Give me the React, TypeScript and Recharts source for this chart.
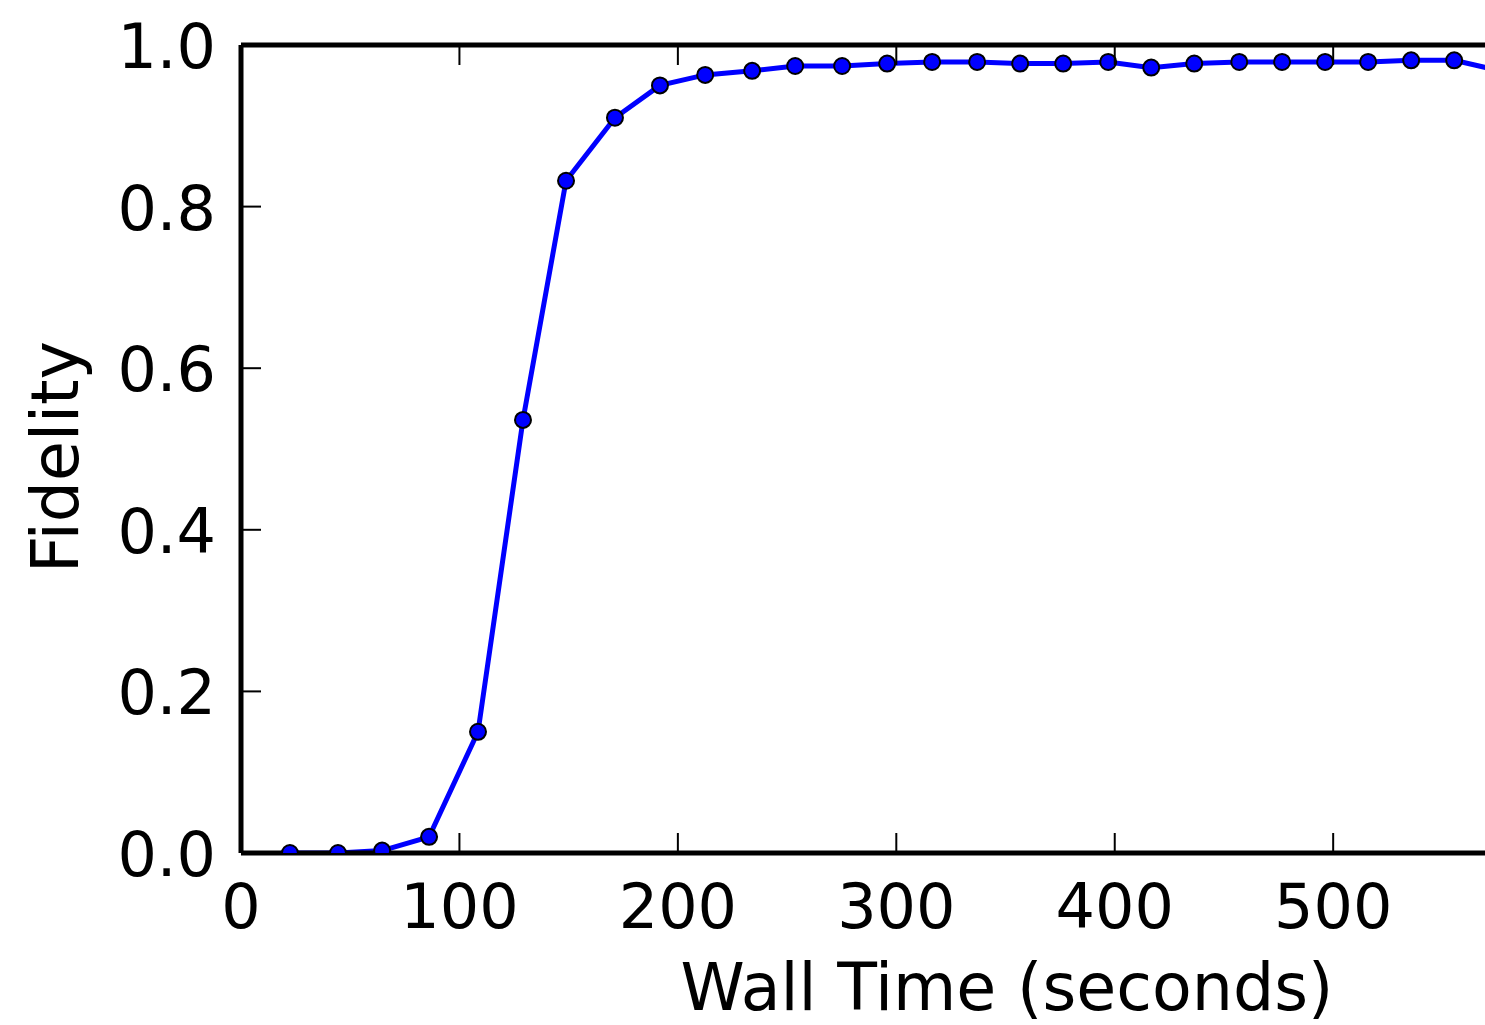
import React from 'react';
import { LineChart, Line, XAxis, YAxis } from 'recharts';

// wall time (s) and fidelity
const wallTime = [22.4, 44.4, 64.6, 86.1, 108.5, 129.1, 148.8, 171.2, 191.8, 212.5, 234.0, 253.7, 275.2, 295.8, 316.4, 337.0, 356.7, 376.4, 397.0, 416.7, 436.4, 457.0, 476.6, 496.3, 516.0, 535.7, 555.4, 575.0];
const fidelity = [0.0, 0.0, 0.003, 0.02, 0.15, 0.536, 0.832, 0.91, 0.95, 0.963, 0.968, 0.974, 0.974, 0.977, 0.979, 0.979, 0.977, 0.977, 0.979, 0.972, 0.977, 0.979, 0.979, 0.979, 0.979, 0.981, 0.981, 0.969];
const xTicks = [0, 100, 200, 300, 400, 500];
const yTicks = [0, 0.2, 0.4, 0.6, 0.8, 1.0];

const data = wallTime.map((t, i) => ({ t, f: fidelity[i] }));

const FONT = 'DejaVu Sans';
const FS = 62;
const TITLE_FS = 65;
const TICK = 20;
const spine = { stroke: '#000', strokeWidth: 5 };

const BottomTick = ({ x, y, payload }: any) => (
  <g>
    <line x1={x} y1={y} x2={x} y2={y - TICK} stroke="#000" strokeWidth={2} />
    <text x={x} y={y + 75} textAnchor="middle" fontSize={FS} fontFamily={FONT} fill="#000">
      {payload.value}
    </text>
  </g>
);

const TopTick = ({ x, y }: any) => (
  <line x1={x} y1={y} x2={x} y2={y + TICK} stroke="#000" strokeWidth={2} />
);

const LeftTick = ({ x, y, payload }: any) => (
  <g>
    <line x1={x} y1={y} x2={x + TICK} y2={y} stroke="#000" strokeWidth={2} />
    <text x={x - 25} y={y + 23} textAnchor="end" fontSize={FS} fontFamily={FONT} fill="#000">
      {Number(payload.value).toFixed(1)}
    </text>
  </g>
);

const XTitle = () => (
  <text x={1007} y={1010} textAnchor="middle" fontSize={TITLE_FS} fontFamily={FONT} fill="#000">
    Wall Time (seconds)
  </text>
);

const YTitle = () => (
  <text x={78} y={457} transform="rotate(-90, 78, 457)" textAnchor="middle" fontSize={TITLE_FS} fontFamily={FONT} fill="#000">
    Fidelity
  </text>
);

export default function App() {
  return (
    <div style={{ position: 'fixed', left: 0, top: 0, width: 1485, height: 1025, overflow: 'hidden', background: '#fff' }}>
      <LineChart width={1500} height={1025} data={data} margin={{ top: 44, right: 3, bottom: 171, left: 240 }}>
        <XAxis
          xAxisId="bottom"
          dataKey="t"
          type="number"
          domain={[0, 575]}
          ticks={xTicks}
          allowDataOverflow
          interval={0}
          height={1}
          tickSize={0}
          tickMargin={0}
          tickLine={false}
          tick={<BottomTick />}
          axisLine={spine}
          label={<XTitle />}
        />
        <XAxis
          xAxisId="top"
          orientation="top"
          dataKey="t"
          type="number"
          domain={[0, 575]}
          ticks={xTicks}
          allowDataOverflow
          interval={0}
          height={1}
          tickSize={0}
          tickMargin={0}
          tickLine={false}
          tick={<TopTick />}
          axisLine={spine}
        />
        <YAxis
          dataKey="f"
          type="number"
          domain={[0, 1]}
          ticks={yTicks}
          allowDataOverflow
          interval={0}
          width={1}
          tickSize={0}
          tickMargin={0}
          tickLine={false}
          tick={<LeftTick />}
          axisLine={spine}
          label={<YTitle />}
        />
        <Line
          xAxisId="bottom"
          dataKey="f"
          type="linear"
          stroke="#0000ff"
          strokeWidth={5}
          dot={{ r: 8, fill: '#0000ff', stroke: '#000', strokeWidth: 2 }}
          isAnimationActive={false}
        />
      </LineChart>
    </div>
  );
}
